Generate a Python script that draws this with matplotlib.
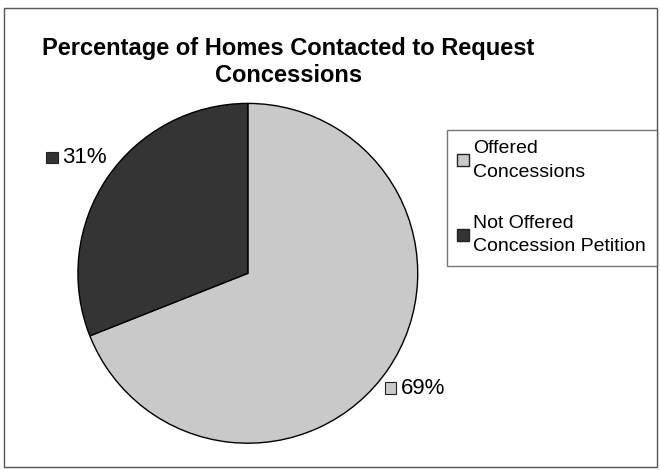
import numpy as np
import matplotlib
matplotlib.use("Agg")
import matplotlib.pyplot as plt
from matplotlib.patches import Rectangle
from matplotlib.lines import Line2D
from matplotlib.offsetbox import AnnotationBbox, HPacker, DrawingArea, TextArea

plt.rcParams['font.family'] = ['Liberation Sans', 'DejaVu Sans']

# data
labels = ["Offered\nConcessions", "Not Offered\nConcession Petition"]
values = [69, 31]
colors = ["#c9c9c9", "#343434"]
title = "Percentage of Homes Contacted to Request\nConcessions"

fig = plt.figure(figsize=(6.6, 4.7), dpi=100)
fig.patch.set_facecolor("white")

# outer chart border
fig.patches.append(Rectangle((0.006, 0.006), 0.99, 0.976, transform=fig.transFigure,
                             fill=False, edgecolor="#555555", linewidth=1.0))

fig.text(0.437, 0.868, title, ha="center", va="center", fontsize=17,
         fontweight="bold", linespacing=1.2)

ax = fig.add_axes([0.118, 0.057, 0.515, 0.723])
wedges, _ = ax.pie(values, colors=colors, startangle=90, counterclock=False,
                   radius=1.0, wedgeprops=dict(edgecolor="black", linewidth=1.0))
ax.set_xlim(-1, 1)
ax.set_ylim(-1, 1)
ax.set_aspect("equal")

# data labels with little colour squares, centred on the wedge mid-angle ray
dists = [1.19, 1.22]
for w, v, c, d in zip(wedges, values, colors, dists):
    ang = np.deg2rad((w.theta1 + w.theta2) / 2)
    x, y = d * np.cos(ang), d * np.sin(ang)
    da = DrawingArea(8, 8, 0, 0)
    da.add_artist(Rectangle((0, 0), 8, 8, facecolor=c, edgecolor="#222222", lw=0.8))
    ta = TextArea(f"{v}%", textprops=dict(fontsize=16))
    box = HPacker(children=[da, ta], align="center", pad=0, sep=3)
    ab = AnnotationBbox(box, (x, y), xycoords="data", frameon=False,
                        box_alignment=(0.5, 0.55), pad=0, annotation_clip=False)
    ax.add_artist(ab)

handles = [Line2D([], [], marker="s", linestyle="none", markersize=8,
                  markerfacecolor=c, markeredgecolor="#222222") for c in colors]
leg = fig.legend(handles, labels, loc="upper left",
                 bbox_to_anchor=(0.677, 0.724), fontsize=14, frameon=True,
                 fancybox=False, edgecolor="#555555", handlelength=0.6,
                 handletextpad=0.2, labelspacing=1.75, borderpad=0.55,
                 borderaxespad=0)
leg.get_frame().set_linewidth(1.0)
for txt in leg.get_texts():
    txt.set_linespacing(1.5)

fig.savefig("out.png", dpi=100)
